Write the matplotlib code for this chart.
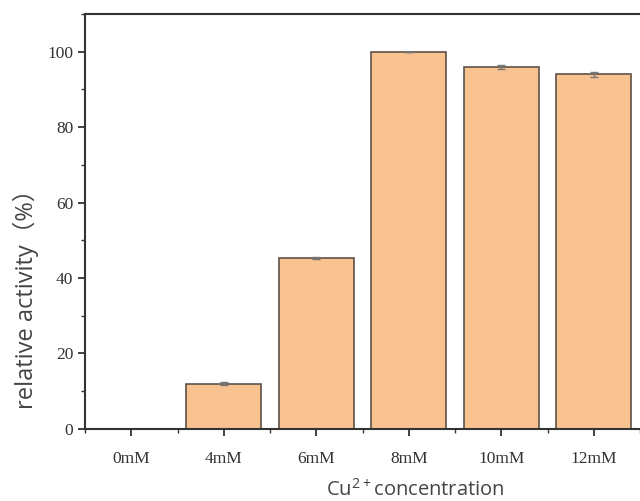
import matplotlib.pyplot as plt
from matplotlib.ticker import MultipleLocator

# relative activity at each Cu2+ concentration
concentrations = ['0mM', '4mM', '6mM', '8mM', '10mM', '12mM']
activity = [0, 12.0, 45.3, 100.0, 96.0, 94.0]
errors = [0, 0.5, 0.3, 0, 0.6, 0.6]

bar_color = '#F9C291'
edge_color = '#5e5247'

plt.rcParams['mathtext.default'] = 'regular'

fig = plt.figure(figsize=(6.4, 5.01), dpi=100)
ax = fig.add_axes([0.133, 0.144, 0.867, 0.828])

x = list(range(len(concentrations)))
ax.bar(x, activity, width=0.81, color=bar_color, edgecolor=edge_color, linewidth=1.2,
       yerr=errors, error_kw=dict(ecolor='#777777', elinewidth=1.0, capsize=3, capthick=1.0))

ax.set_xlim(-0.48, 5.45)
ax.set_ylim(0, 110)

ax.set_xticks(x)
ax.set_xticklabels(concentrations)
ax.set_xticks([i + 0.5 for i in range(-1, 6)], minor=True)
ax.yaxis.set_major_locator(MultipleLocator(20))
ax.yaxis.set_minor_locator(MultipleLocator(10))

for label in ax.get_xticklabels() + ax.get_yticklabels():
    label.set_family('Liberation Serif')
    label.set_fontsize(12.5)
    label.set_color('#333333')

ax.tick_params(axis='both', which='major', direction='out', length=5, width=1.3, color='#333333')
ax.tick_params(axis='both', which='minor', direction='out', length=3, width=1.0, color='#333333')
ax.tick_params(axis='x', pad=11)

ax.spines['right'].set_visible(False)
for side in ['left', 'bottom', 'top']:
    ax.spines[side].set_linewidth(1.5)
    ax.spines[side].set_color('#333333')

fig.text(0.04, 0.415, 'relative activity（%）', rotation=90, ha='center', va='center',
         fontsize=17, color='#444444', family=['Open Sans', 'Noto Sans CJK SC'])
fig.text(0.648, 0.022, 'Cu$^{2+}$concentration', ha='center', va='center',
         fontsize=14.5, color='#444444', family='Open Sans')

fig.savefig('out.png', dpi=100)
